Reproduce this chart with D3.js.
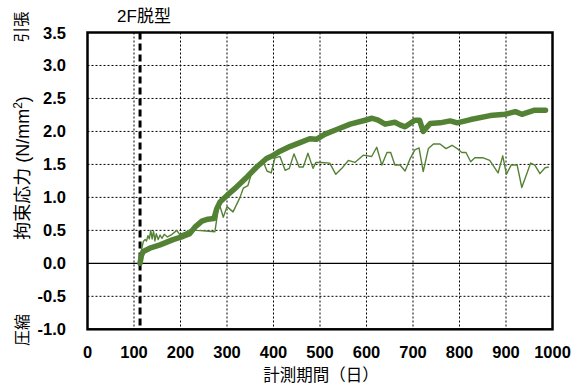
<!DOCTYPE html>
<html>
<head>
<meta charset="utf-8">
<script src="https://cdn.jsdelivr.net/npm/d3@7"></script>
<style>
  body { margin: 0; background: #fff; }
  text { font-family: "Liberation Sans", Arial, "Noto Sans CJK JP", sans-serif; }
</style>
</head>
<body>
<svg id="chart"></svg>
<script>
(() => {

  // thick line (day, stress)
  const thickDays = [113,116,120,134,156,184,206,220,231,246,259,272,278,285,300,321,343,364,385,400,414,435,457,478,492,511,536,565,597,612,625,640,661,672,683,704,714,722,737,758,780,795,824,866,898,920,934,960,985];
  const thickVals = [0,0.12,0.18,0.23,0.28,0.36,0.41,0.45,0.55,0.64,0.67,0.68,0.83,0.93,1.03,1.16,1.31,1.46,1.59,1.64,1.70,1.77,1.83,1.89,1.88,1.96,2.03,2.11,2.17,2.20,2.17,2.11,2.14,2.10,2.07,2.17,2.17,2.00,2.12,2.13,2.16,2.13,2.18,2.24,2.26,2.30,2.26,2.32,2.32];

  // thin line (day, stress)
  const thinDays = [113,116,120,124,127,130,133,136,139,142,145,148,152,156,160,165,172,180,192,198,210,222,236,255,274,283,292,300,313,328,335,345,356,371,378,386,395,403,414,425,434,444,455,464,474,485,491,504,521,534,547,561,575,593,611,622,633,644,652,661,672,683,694,704,713,722,733,744,758,771,784,795,805,814,824,833,851,865,883,893,901,911,924,934,953,962,973,984,992];
  const thinVals = [0,0.20,0.33,0.36,0.34,0.42,0.37,0.50,0.37,0.49,0.34,0.45,0.36,0.43,0.38,0.44,0.40,0.43,0.50,0.44,0.47,0.51,0.50,0.49,0.48,0.91,0.70,0.86,0.78,1.00,1.14,1.18,1.44,1.52,1.54,1.40,1.37,1.60,1.62,1.41,1.44,1.66,1.46,1.46,1.67,1.44,1.53,1.53,1.52,1.35,1.44,1.56,1.53,1.64,1.62,1.76,1.49,1.68,1.68,1.49,1.49,1.40,1.59,1.72,1.75,1.39,1.74,1.81,1.81,1.74,1.79,1.74,1.68,1.68,1.54,1.60,1.60,1.56,1.37,1.63,1.35,1.49,1.49,1.15,1.52,1.49,1.36,1.45,1.46];

  const xTicks = [0,100,200,300,400,500,600,700,800,900,1000];
  const yTicks = [-1.0,-0.5,0.0,0.5,1.0,1.5,2.0,2.5,3.0,3.5];
  const demoldDay = 113;

  const svgWidth = 580;
  const svgHeight = 389;
  const green = '#548235';

  const svg = d3.select('#chart')
    .attr('width', svgWidth)
    .attr('height', svgHeight);

  const xScale = d3.scaleLinear().domain([0, 1000]).range([87.5, 552.5]);
  const yScale = d3.scaleLinear().domain([-1, 3.5]).range([329.3, 32.5]);

  // grid
  svg.append('g')
    .selectAll('line')
    .data(yTicks.filter(t => t !== 0 && t !== -1 && t !== 3.5))
    .enter().append('line')
    .attr('x1', xScale(0)).attr('x2', xScale(1000))
    .attr('y1', d => yScale(d)).attr('y2', d => yScale(d))
    .attr('stroke', '#000').attr('stroke-width', 1)
    .attr('stroke-dasharray', '2,2');

  svg.append('g')
    .selectAll('line')
    .data(xTicks.filter(t => t > 0 && t < 1000))
    .enter().append('line')
    .attr('x1', d => xScale(d)).attr('x2', d => xScale(d))
    .attr('y1', yScale(3.5)).attr('y2', yScale(-1))
    .attr('stroke', '#000').attr('stroke-width', 1)
    .attr('stroke-dasharray', '2,2');

  // zero line
  svg.append('line')
    .attr('x1', xScale(0)).attr('x2', xScale(1000))
    .attr('y1', yScale(0)).attr('y2', yScale(0))
    .attr('stroke', '#000').attr('stroke-width', 1.2);

  // demolding line
  svg.append('line')
    .attr('x1', xScale(demoldDay)).attr('x2', xScale(demoldDay))
    .attr('y1', yScale(3.5)).attr('y2', yScale(-1))
    .attr('stroke', '#000').attr('stroke-width', 3)
    .attr('stroke-dasharray', '7,4');

  const line = d3.line()
    .x(d => xScale(d[0]))
    .y(d => yScale(d[1]));

  svg.append('path')
    .datum(thinDays.map((d, i) => [d, thinVals[i]]))
    .attr('fill', 'none')
    .attr('stroke', green)
    .attr('stroke-width', 1.4)
    .attr('stroke-linejoin', 'round')
    .attr('d', line);

  svg.append('path')
    .datum(thickDays.map((d, i) => [d, thickVals[i]]))
    .attr('fill', 'none')
    .attr('stroke', green)
    .attr('stroke-width', 5.5)
    .attr('stroke-linejoin', 'round')
    .attr('stroke-linecap', 'round')
    .attr('d', line);

  // frame
  svg.append('rect')
    .attr('x', xScale(0)).attr('y', yScale(3.5))
    .attr('width', xScale(1000) - xScale(0))
    .attr('height', yScale(-1) - yScale(3.5))
    .attr('fill', 'none')
    .attr('stroke', '#000').attr('stroke-width', 2.5);

  // tick labels
  svg.append('g')
    .selectAll('text')
    .data(yTicks)
    .enter().append('text')
    .attr('x', 66)
    .attr('y', d => yScale(d) + 6)
    .attr('text-anchor', 'end')
    .attr('font-size', 16.5)
    .attr('font-weight', 'bold')
    .text(d => d.toFixed(1));

  svg.append('g')
    .selectAll('text')
    .data(xTicks)
    .enter().append('text')
    .attr('x', d => xScale(d))
    .attr('y', 358)
    .attr('text-anchor', 'middle')
    .attr('font-size', 16.5)
    .attr('font-weight', 'bold')
    .text(d => d);

  // titles
  svg.append('text')
    .attr('x', 321).attr('y', 381)
    .attr('text-anchor', 'middle')
    .attr('font-size', 16.5)
    .text('計測期間（日）');

  const yTitle = svg.append('text')
    .attr('transform', 'translate(29,168) rotate(-90)')
    .attr('text-anchor', 'middle')
    .attr('font-size', 18);
  yTitle.append('tspan').text('拘束応力 (N/mm');
  yTitle.append('tspan').attr('font-size', 12).attr('dy', -7).text('2');
  yTitle.append('tspan').attr('dy', 7).text(')');

  svg.append('text')
    .attr('transform', 'translate(27,27) rotate(-90)')
    .attr('text-anchor', 'middle')
    .attr('font-size', 15.5)
    .text('引張');

  svg.append('text')
    .attr('transform', 'translate(28,330) rotate(-90)')
    .attr('text-anchor', 'middle')
    .attr('font-size', 16)
    .text('圧縮');

  svg.append('text')
    .attr('x', 144).attr('y', 22)
    .attr('text-anchor', 'middle')
    .attr('font-size', 17)
    .text('2F脱型');

})();
</script>
</body>
</html>
